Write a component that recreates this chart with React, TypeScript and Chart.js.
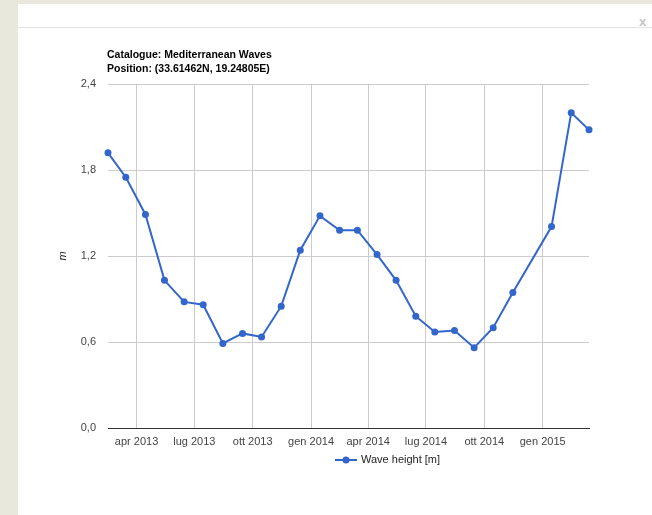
import React, { useEffect, useRef } from "react";
import { Chart, registerables } from "chart.js";

Chart.register(...registerables);

const titleLines = ["Catalogue: Mediterranean Waves", "Position: (33.61462N, 19.24805E)"];
const seriesLabel = "Wave height [m]";
const yAxisTitle = "m";

const dates = [
  "2013-02-15", "2013-03-15", "2013-04-15", "2013-05-15", "2013-06-15", "2013-07-15",
  "2013-08-15", "2013-09-15", "2013-10-15", "2013-11-15", "2013-12-15", "2014-01-15",
  "2014-02-15", "2014-03-15", "2014-04-15", "2014-05-15", "2014-06-15", "2014-07-15",
  "2014-08-15", "2014-09-15", "2014-10-15", "2014-11-15", "2015-01-15", "2015-02-15",
  "2015-03-15",
];
const waveHeight = [
  1.92, 1.75, 1.49, 1.03, 0.88, 0.86, 0.59, 0.66, 0.635, 0.85, 1.24, 1.48,
  1.38, 1.38, 1.21, 1.03, 0.78, 0.67, 0.68, 0.56, 0.7, 0.945, 1.405, 2.2, 2.08,
];
const xTickDates = [
  "2013-04-01", "2013-07-01", "2013-10-01", "2014-01-01",
  "2014-04-01", "2014-07-01", "2014-10-01", "2015-01-01",
];
const xTickLabels = [
  "apr 2013", "lug 2013", "ott 2013", "gen 2014",
  "apr 2014", "lug 2014", "ott 2014", "gen 2015",
];
const yTickValues = [0, 0.6, 1.2, 1.8, 2.4];
const yTickLabels = ["0,0", "0,6", "1,2", "1,8", "2,4"];

const toDay = (s: string) => {
  const [y, m, d] = s.split("-").map(Number);
  return Date.UTC(y, m - 1, d) / 86400000;
};

const FONT = "Arial, 'Liberation Sans', Helvetica, sans-serif";
const LINE = "#3366cc";

export default function App() {
  const ref = useRef<HTMLCanvasElement | null>(null);

  useEffect(() => {
    if (!ref.current) return;
    const points = dates.map((d, i) => ({ x: toDay(d), y: waveHeight[i] }));
    const tickDays = xTickDates.map(toDay);

    const overlay = {
      id: "overlay",
      afterDraw(chart: any) {
        const ctx = chart.ctx;
        const area = chart.chartArea;
        ctx.save();
        ctx.fillStyle = "#000";
        ctx.font = `bold 10.5px ${FONT}`;
        ctx.textAlign = "left";
        ctx.textBaseline = "middle";
        titleLines.forEach((t, i) => ctx.fillText(t, area.left - 1, 55 + i * 14));
        const ly = area.bottom + 32;
        const lx = area.left + 227;
        ctx.strokeStyle = LINE;
        ctx.lineWidth = 2;
        ctx.beginPath();
        ctx.moveTo(lx, ly);
        ctx.lineTo(lx + 22, ly);
        ctx.stroke();
        ctx.fillStyle = LINE;
        ctx.beginPath();
        ctx.arc(lx + 11, ly, 3.5, 0, Math.PI * 2);
        ctx.fill();
        ctx.fillStyle = "#222";
        ctx.font = `11px ${FONT}`;
        ctx.fillText(seriesLabel, lx + 26, ly);
        ctx.restore();
      },
    };

    const chart = new Chart(ref.current, {
      type: "line",
      data: {
        datasets: [
          {
            label: seriesLabel,
            data: points,
            borderColor: LINE,
            backgroundColor: LINE,
            borderWidth: 2,
            pointRadius: 3.5,
            pointBackgroundColor: LINE,
            pointBorderWidth: 0,
            tension: 0,
            clip: false as any,
          },
        ],
      },
      options: {
        animation: false,
        responsive: false,
        devicePixelRatio: 1,
        layout: { padding: { left: 56, right: 63, top: 84, bottom: 67 } },
        plugins: { legend: { display: false }, title: { display: false }, tooltip: { enabled: false } },
        scales: {
          x: {
            type: "linear",
            min: toDay(dates[0]),
            max: toDay(dates[dates.length - 1]),
            afterBuildTicks: (scale: any) => {
              scale.ticks = tickDays.map((v) => ({ value: v }));
            },
            afterFit: (scale: any) => {
              scale.height = 20;
            },
            grid: { color: "#cccccc", lineWidth: 1, drawTicks: false },
            border: { display: true, color: "#333333", width: 1 },
            ticks: {
              autoSkip: false,
              maxRotation: 0,
              padding: 7,
              color: "#444",
              font: { family: FONT, size: 11 },
              callback: (_v: any, i: number) => xTickLabels[i],
            },
          },
          y: {
            min: 0,
            max: 2.4,
            afterBuildTicks: (scale: any) => {
              scale.ticks = yTickValues.map((v) => ({ value: v }));
            },
            afterFit: (scale: any) => {
              scale.width = 52;
            },
            grid: {
              color: (c: any) => (c.tick && c.tick.value === 0 ? "#333333" : "#cccccc"),
              lineWidth: 1,
              drawTicks: false,
            },
            border: { display: false },
            title: {
              display: true,
              text: yAxisTitle,
              color: "#222",
              padding: 0,
              font: { family: FONT, size: 11, style: "italic" },
            },
            ticks: {
              padding: 12,
              color: "#444",
              font: { family: FONT, size: 11 },
              callback: (_v: any, i: number) => yTickLabels[i],
            },
          },
        },
      },
      plugins: [overlay],
    } as any);
    return () => chart.destroy();
  }, []);

  return (
    <div
      style={{
        position: "absolute",
        left: 0,
        top: 0,
        width: 652,
        height: 515,
        overflow: "hidden",
        background: "#e8e8dc",
      }}
    >
      <div
        style={{
          position: "absolute",
          left: 18,
          top: 4,
          width: 634,
          height: 511,
          background: "#ffffff",
        }}
      >
        <div
          style={{
            position: "absolute",
            left: 0,
            top: 23,
            width: 634,
            height: 0,
            borderTop: "1px solid #e2e2e2",
          }}
        />
        <div
          style={{
            position: "absolute",
            left: 621,
            top: 10,
            fontFamily: FONT,
            fontSize: 13,
            fontWeight: "bold",
            color: "#c4c4c4",
            lineHeight: "16px",
          }}
        >
          x
        </div>
      </div>
      <canvas
        ref={ref}
        width={652}
        height={515}
        style={{ position: "absolute", left: 0, top: 0, width: 652, height: 515 }}
      />
    </div>
  );
}
